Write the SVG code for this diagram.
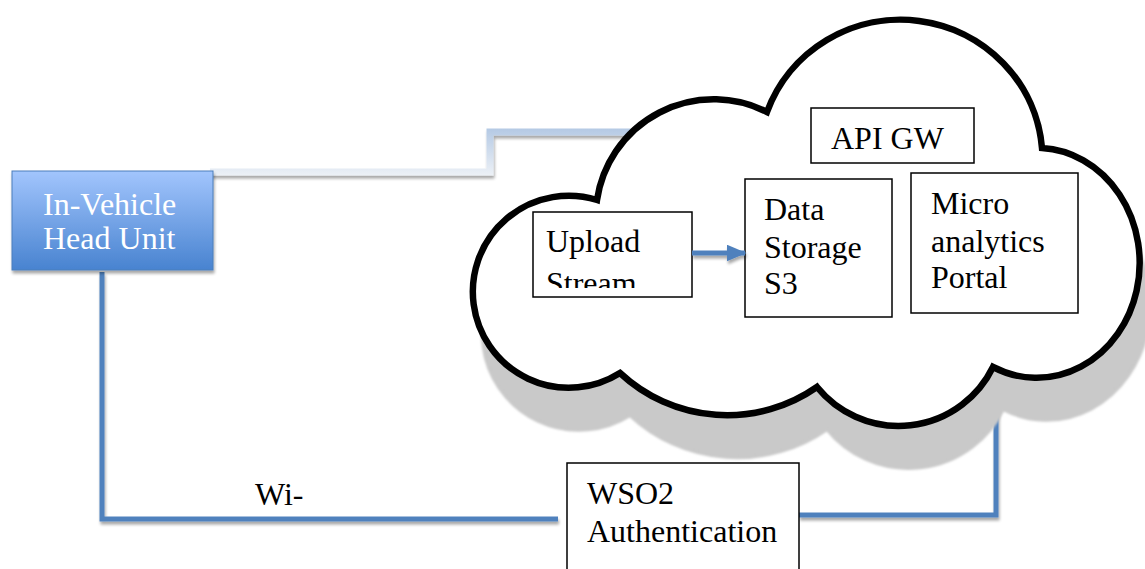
<svg xmlns="http://www.w3.org/2000/svg" width="1145" height="569" viewBox="0 0 1145 569" font-family="'Liberation Serif', 'DejaVu Serif', serif">
<style>
  .box { fill: #ffffff; stroke: #000000; stroke-width: 1.5; }
  text { font-family: 'Liberation Serif', 'DejaVu Serif', serif; font-size: 32px; }
  .t { fill: #000000; }
  .tw { fill: #ffffff; }
  .blue { fill: none; stroke: #4f81bd; stroke-width: 5; }
</style>
<defs>
  <linearGradient id="hu" x1="0" y1="0" x2="0" y2="1">
    <stop offset="0" stop-color="#a2c5fd"/>
    <stop offset="1" stop-color="#4883d0"/>
  </linearGradient>
  <linearGradient id="topline" gradientUnits="userSpaceOnUse" x1="0" y1="128" x2="0" y2="177">
    <stop offset="0" stop-color="#b4c9e4"/>
    <stop offset="1" stop-color="#eef2f7"/>
  </linearGradient>
  <filter id="sh" filterUnits="userSpaceOnUse" x="0" y="0" width="1145" height="569">
    <feGaussianBlur in="SourceAlpha" stdDeviation="1.5"/>
    <feOffset dx="1" dy="3" result="b"/>
    <feComponentTransfer><feFuncA type="linear" slope="0.35"/></feComponentTransfer>
    <feMerge><feMergeNode/><feMergeNode in="SourceGraphic"/></feMerge>
  </filter>
  <filter id="soft" filterUnits="userSpaceOnUse" x="0" y="0" width="1145" height="569">
    <feGaussianBlur stdDeviation="0.8"/>
  </filter>
  <marker id="arr" markerWidth="4" markerHeight="3.4" refX="3.7" refY="1.7" orient="auto" markerUnits="strokeWidth">
    <path d="M0,0 L4,1.7 L0,3.4 Z" fill="#4f81bd"/>
  </marker>
  <clipPath id="upclip"><rect x="533" y="212" width="159" height="76"/></clipPath>
  <path id="cloudPath" d="M 597,200 A 118 118 0 0 1 767,112 A 142 140 0 0 1 1042,148 A 103 115 0 1 1 993,367 A 105 105 0 0 1 817,387 A 157 157 0 0 1 620,373 A 96 96 0 1 1 597,200 Z"/>
</defs>
<rect width="1145" height="569" fill="#ffffff"/>

<g id="connectors">
  <path d="M 210,172 H 490 V 132 H 640" fill="none" stroke="url(#topline)" stroke-width="7" filter="url(#sh)"/>
  <path class="blue" d="M 102,272 V 519 H 558" filter="url(#sh)"/>
  <path class="blue" d="M 799,515 H 996 V 380" filter="url(#sh)"/>
</g>

<g id="cloud">
  <use href="#cloudPath" transform="translate(10,42)" fill="#c9c9c9" stroke="#c9c9c9" stroke-width="4" filter="url(#soft)"/>
  <use href="#cloudPath" fill="#ffffff" stroke="#000000" stroke-width="6.5"/>
</g>

<g id="head-unit">
  <rect x="12" y="171" width="201" height="99" fill="url(#hu)" stroke="#4a7ebb" stroke-width="1" filter="url(#sh)"/>
  <text class="tw" x="43" y="215">In-Vehicle</text>
  <text class="tw" x="43" y="249">Head Unit</text>
</g>

<g id="api-gw">
  <rect class="box" x="811" y="108" width="163" height="55"/>
  <text class="t" x="831" y="149">API GW</text>
</g>

<g id="upload-stream">
  <rect class="box" x="533" y="212" width="159" height="85"/>
  <g clip-path="url(#upclip)">
    <text class="t" x="546" y="252">Upload</text>
    <text class="t" x="546" y="294">Stream</text>
  </g>
</g>

<g id="data-storage">
  <rect class="box" x="745" y="179" width="147" height="138"/>
  <text class="t" x="764" y="220">Data</text>
  <text class="t" x="764" y="258">Storage</text>
  <text class="t" x="764" y="294">S3</text>
</g>

<g id="micro-analytics">
  <rect class="box" x="911" y="173" width="167" height="140"/>
  <text class="t" x="931" y="214">Micro</text>
  <text class="t" x="931" y="252">analytics</text>
  <text class="t" x="931" y="288">Portal</text>
</g>

<g id="arrow-connector">
  <path d="M 692,253 H 745" fill="none" stroke="#4f81bd" stroke-width="5" marker-end="url(#arr)" filter="url(#sh)"/>
</g>

<g id="wso2">
  <rect class="box" x="567" y="463" width="232" height="110"/>
  <text class="t" x="587" y="504">WSO2</text>
  <text class="t" x="587" y="542">Authentication</text>
</g>

<g id="label-wi">
  <text class="t" x="255" y="505">Wi-</text>
</g>
</svg>
